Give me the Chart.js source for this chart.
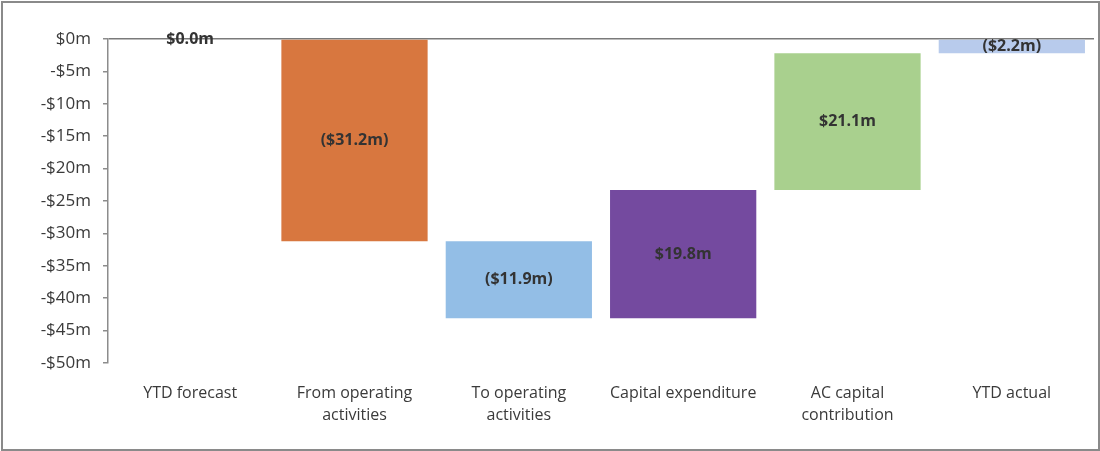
<!DOCTYPE html>
<html>
<head>
<meta charset="utf-8">
<script src="https://cdn.jsdelivr.net/npm/chart.js@4"></script>
<style>
  body { margin: 0; background: #fff; }
  .wrap { position: relative; width: 1100px; height: 451px; }
  .frame { position: absolute; left: 1px; top: 1px; width: 1095px; height: 446px; border: 2px solid #8a8a8a; pointer-events: none; }
</style>
</head>
<body>
<div class="wrap">
  <canvas id="grafica" width="1100" height="451"></canvas>
  <div class="frame"></div>
</div>
<script>
const categories = [
  'YTD forecast',
  ['From operating', 'activities'],
  ['To operating', 'activities'],
  'Capital expenditure',
  ['AC capital', 'contribution'],
  'YTD actual'
];
const barStarts = [0, 0, -31.2, -43.1, -23.3, 0];
const barEnds = [0, -31.2, -43.1, -23.3, -2.2, -2.2];
const barLabels = ['$0.0m', '($31.2m)', '($11.9m)', '$19.8m', '$21.1m', '($2.2m)'];
const barColors = ['#ffffff', '#d8773f', '#93bee6', '#744a9f', '#a9d08e', '#b8cbec'];
const tickValues = [0, -5, -10, -15, -20, -25, -30, -35, -40, -45, -50];

// etiquetas dentro de las barras
const etiquetas = {
  id: 'etiquetas',
  afterDatasetsDraw(chart) {
    const ctx = chart.ctx;
    const meta = chart.getDatasetMeta(0);
    ctx.save();
    ctx.font = 'bold 16px "Open Sans"';
    ctx.fillStyle = '#333333';
    ctx.textAlign = 'center';
    ctx.textBaseline = 'middle';
    meta.data.forEach((bar, i) => {
      const y = (bar.y + bar.base) / 2;
      ctx.fillText(barLabels[i], bar.x, y);
    });
    ctx.restore();
  }
};

const data = {
  labels: categories,
  datasets: [{
    data: barStarts.map((s, i) => [s, barEnds[i]]),
    backgroundColor: barColors,
    borderWidth: 0,
    categoryPercentage: 1,
    barPercentage: 0.89
  }]
};

const options = {
  responsive: false,
  animation: false,
  layout: { padding: { left: 0, right: 6, top: 39, bottom: 0 } },
  plugins: { legend: { display: false }, tooltip: { enabled: false } },
  scales: {
    x: {
      grid: { display: false },
      border: { display: false },
      afterFit: (s) => { s.height = 88; },
      ticks: {
        color: '#3a3a3a',
        font: { family: '"Open Sans"', size: 16, lineHeight: 1.4 },
        padding: 11,
        maxRotation: 0
      }
    },
    y: {
      min: -50,
      max: 0,
      afterFit: (s) => { s.width = 108; },
      afterBuildTicks: (s) => { s.ticks = tickValues.map(v => ({ value: v })); },
      grid: {
        color: (c) => c.tick && c.tick.value === 0 ? '#7a7a7a' : 'rgba(0,0,0,0)',
        tickColor: '#8c8c8c',
        tickLength: 5,
        lineWidth: 1.5
      },
      border: { display: true, color: '#8c8c8c', width: 1.5 },
      ticks: {
        color: '#3a3a3a',
        font: { family: '"Open Sans"', size: 17 },
        padding: 12,
        callback: (v) => v === 0 ? '$0m' : '-$' + (-v) + 'm'
      }
    }
  }
};

new Chart(document.getElementById('grafica'), {
  type: 'bar',
  data: data,
  options: options,
  plugins: [etiquetas]
});
</script>
</body>
</html>
